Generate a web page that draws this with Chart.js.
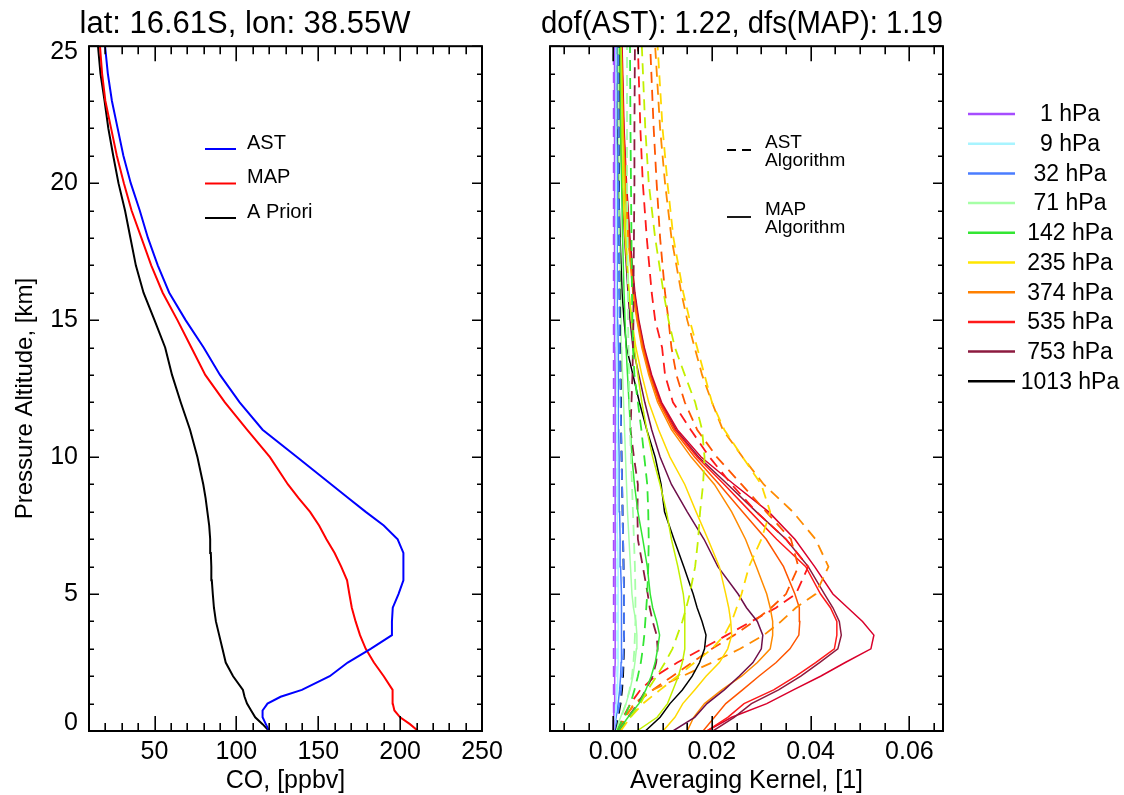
<!DOCTYPE html>
<html><head><meta charset="utf-8">
<script src="https://cdn.jsdelivr.net/npm/chart.js@4.4.1/dist/chart.umd.min.js"></script>
<style>
html,body{margin:0;padding:0;background:#fff;}
#wrap{position:relative;width:1124px;height:795px;overflow:hidden;background:#fff;}
#c1{position:absolute;left:0;top:0;}
#c2{position:absolute;left:500px;top:0;}
</style></head><body>
<div id="wrap"><canvas id="c1" width="540" height="795"></canvas><canvas id="c2" width="624" height="795"></canvas></div>
<script>
// ---------------- data: left panel (CO profiles) ----------------
const PROFILE_ALT = [0, 0.25, 0.5, 0.75, 1, 1.25, 1.5, 2, 2.5, 3, 3.5, 4, 4.5, 5, 5.5, 6, 6.5, 7, 7.5, 8, 8.5, 9, 10, 11, 12, 13, 14, 15, 16, 17, 18, 19, 20, 21, 22, 23, 24, 25];
const AST_CO = [120, 118, 116, 116, 119, 127, 140, 157, 168, 182, 195, 195, 195.5, 199, 202, 202, 202, 198.5, 190, 179, 168.5, 158, 137, 116, 102, 90, 80, 69, 59, 52, 46, 41, 35.5, 31, 27.5, 24, 21.5, 19.8];
const MAP_CO = [211, 206, 200, 196.5, 195.5, 195.5, 195.3, 190, 184, 179, 175.5, 172.8, 170.5, 169, 167.6, 164, 160, 155, 150.5, 145, 138, 131.5, 120.5, 106.5, 93, 81, 72.5, 64, 55, 48, 42, 36, 31.3, 27, 23.5, 20, 18, 16.7];
const APRIORI_CO = [120, 116, 111.5, 109, 106.5, 105, 104, 98, 93.5, 91.5, 89.5, 87.5, 86.3, 85.6, 85, 84.7, 84.4, 84, 83.4, 82.3, 81.2, 79.8, 76.2, 71.7, 66, 60.7, 56.5, 50, 43.3, 38.6, 35.3, 32, 28, 24.8, 21.8, 19.5, 17, 15.5];
const CO_SERIES_LABELS = ['AST', 'MAP', 'A Priori'];
const CO_TICKS = [50, 100, 150, 200, 250];
const ALT_TICKS = [0, 5, 10, 15, 20, 25];

// ---------------- data: right panel (averaging kernels) ----------------
const AK_ALT = [0, 0.5, 1, 1.5, 2, 2.5, 3, 3.5, 4, 4.5, 5, 6, 7, 8, 9, 10, 11, 12, 13, 14, 15, 16, 18, 20, 22, 25];
const AK_TICKS = [0, 0.02, 0.04, 0.06];
const AK_TICK_LABELS = ['0.00', '0.02', '0.04', '0.06'];
// MAP algorithm kernels (solid)
const MAP_AK_1    = [0.0000,0.0001,0.0002,0.0003,0.0003,0.0004,0.0004,0.0004,0.0004,0.0004,0.0004,0.0004,0.0004,0.0004,0.0004,0.0004,0.0004,0.0004,0.0004,0.0003,0.0003,0.0003,0.0003,0.0003,0.0002,0.0002];
const MAP_AK_9    = [0.0001,0.0004,0.0006,0.0008,0.0009,0.0010,0.0010,0.0010,0.0010,0.0010,0.0010,0.0010,0.0009,0.0009,0.0009,0.0008,0.0008,0.0008,0.0007,0.0007,0.0007,0.0006,0.0006,0.0006,0.0005,0.0005];
const MAP_AK_32   = [0.0001,0.0006,0.0010,0.0013,0.0015,0.0016,0.0017,0.0017,0.0017,0.0017,0.0016,0.0015,0.0014,0.0013,0.0012,0.0012,0.0011,0.0011,0.0010,0.0010,0.0009,0.0009,0.0008,0.0008,0.0007,0.0007];
const MAP_AK_71   = [0.0004,0.0015,0.0026,0.0034,0.0040,0.0044,0.0047,0.0048,0.0046,0.0041,0.0038,0.0035,0.0032,0.0029,0.0027,0.0025,0.0023,0.0021,0.0019,0.0017,0.0016,0.0015,0.0013,0.0012,0.0011,0.0010];
const MAP_AK_142  = [0.0010,0.0030,0.0052,0.0066,0.0077,0.0085,0.0090,0.0094,0.0088,0.0080,0.0075,0.0069,0.0060,0.0050,0.0043,0.0038,0.0035,0.0032,0.0029,0.0026,0.0024,0.0022,0.0019,0.0017,0.0015,0.0013];
const MAP_AK_180  = [0.0048,0.0089,0.0110,0.0121,0.0132,0.0140,0.0145,0.0145,0.0145,0.0145,0.0142,0.0131,0.0118,0.0108,0.0095,0.0080,0.0068,0.0058,0.0050,0.0043,0.0037,0.0032,0.0026,0.0022,0.0019,0.0016];
const MAP_AK_235  = [0.0101,0.0125,0.0141,0.0165,0.0188,0.0215,0.0232,0.0240,0.0238,0.0234,0.0228,0.0215,0.0192,0.0168,0.0145,0.0115,0.0092,0.0072,0.0058,0.0046,0.0038,0.0032,0.0024,0.0019,0.0016,0.0013];
const MAP_AK_374  = [0.0150,0.0163,0.0185,0.0220,0.0260,0.0292,0.0318,0.0323,0.0323,0.0318,0.0311,0.0290,0.0268,0.0240,0.0205,0.0158,0.0118,0.0090,0.0072,0.0058,0.0048,0.0040,0.0030,0.0024,0.0020,0.0016];
const MAP_AK_450  = [0.0182,0.0205,0.0228,0.0262,0.0295,0.0330,0.0358,0.0376,0.0378,0.0377,0.0368,0.0345,0.0310,0.0262,0.0215,0.0165,0.0122,0.0093,0.0074,0.0060,0.0049,0.0041,0.0031,0.0025,0.0020,0.0016];
const MAP_AK_535  = [0.0190,0.0232,0.0265,0.0325,0.0370,0.0410,0.0448,0.0453,0.0453,0.0440,0.0420,0.0390,0.0331,0.0278,0.0225,0.0170,0.0125,0.0095,0.0075,0.0061,0.0050,0.0042,0.0032,0.0026,0.0021,0.0017];
const MAP_AK_640  = [0.0190,0.0240,0.0311,0.0365,0.0420,0.0470,0.0522,0.0528,0.0505,0.0475,0.0445,0.0408,0.0368,0.0315,0.0245,0.0178,0.0130,0.0098,0.0078,0.0063,0.0052,0.0044,0.0034,0.0027,0.0022,0.0018];
const MAP_AK_690  = [0.0121,0.0165,0.0190,0.0225,0.0255,0.0283,0.0300,0.0303,0.0292,0.0270,0.0253,0.0212,0.0184,0.0150,0.0118,0.0095,0.0078,0.0064,0.0052,0.0040,0.0034,0.0030,0.0023,0.0018,0.0015,0.0012];
const MAP_AK_753  = [0.0202,0.0245,0.0280,0.0335,0.0380,0.0418,0.0455,0.0462,0.0458,0.0445,0.0428,0.0395,0.0350,0.0290,0.0232,0.0173,0.0127,0.0096,0.0076,0.0062,0.0051,0.0043,0.0033,0.0026,0.0021,0.0017];
const MAP_AK_1013 = [0.0065,0.0095,0.0115,0.0140,0.0160,0.0175,0.0185,0.0188,0.0180,0.0170,0.0162,0.0143,0.0123,0.0104,0.0097,0.0085,0.0068,0.0053,0.0040,0.0027,0.0022,0.0018,0.0014,0.0011,0.0009,0.0008];
// AST algorithm kernels (dashed)
const AST_AK_1    = [0.0000,0.0001,0.0001,0.0001,0.0001,0.0001,0.0001,0.0001,0.0001,0.0001,0.0001,0.0001,0.0001,0.0001,0.0001,0.0001,0.0001,0.0001,0.0001,0.0001,0.0001,0.0001,0.0001,0.0001,0.0001,0.0001];
const AST_AK_9    = [0.0001,0.0004,0.0006,0.0007,0.0008,0.0008,0.0008,0.0008,0.0008,0.0008,0.0008,0.0008,0.0008,0.0008,0.0007,0.0007,0.0007,0.0007,0.0007,0.0006,0.0006,0.0006,0.0006,0.0005,0.0005,0.0005];
const AST_AK_32   = [0.0002,0.0008,0.0013,0.0016,0.0018,0.0020,0.0021,0.0022,0.0022,0.0022,0.0022,0.0021,0.0020,0.0019,0.0018,0.0017,0.0016,0.0015,0.0014,0.0013,0.0013,0.0012,0.0012,0.0011,0.0011,0.0010];
const AST_AK_71   = [0.0004,0.0016,0.0026,0.0033,0.0038,0.0041,0.0043,0.0044,0.0045,0.0045,0.0045,0.0044,0.0042,0.0040,0.0038,0.0036,0.0034,0.0033,0.0032,0.0031,0.0030,0.0030,0.0029,0.0028,0.0028,0.0028];
const AST_AK_142  = [0.0006,0.0022,0.0035,0.0043,0.0050,0.0056,0.0060,0.0063,0.0065,0.0067,0.0069,0.0071,0.0072,0.0071,0.0069,0.0063,0.0057,0.0050,0.0043,0.0040,0.0039,0.0038,0.0037,0.0036,0.0035,0.0034];
const AST_AK_180  = [0.0010,0.0035,0.0055,0.0070,0.0088,0.0105,0.0120,0.0130,0.0140,0.0148,0.0155,0.0166,0.0172,0.0176,0.0182,0.0185,0.0180,0.0166,0.0145,0.0125,0.0112,0.0102,0.0085,0.0072,0.0065,0.0058];
const AST_AK_235  = [0.0015,0.0035,0.0060,0.0095,0.0130,0.0165,0.0200,0.0225,0.0240,0.0250,0.0260,0.0275,0.0300,0.0318,0.0300,0.0262,0.0225,0.0200,0.0185,0.0170,0.0155,0.0142,0.0122,0.0110,0.0100,0.0090];
const AST_AK_374  = [0.0012,0.0025,0.0042,0.0080,0.0140,0.0200,0.0257,0.0305,0.0340,0.0370,0.0410,0.0436,0.0410,0.0364,0.0305,0.0262,0.0222,0.0200,0.0180,0.0165,0.0150,0.0138,0.0118,0.0105,0.0095,0.0085];
const AST_AK_450  = [0.0010,0.0022,0.0045,0.0080,0.0120,0.0160,0.0200,0.0245,0.0285,0.0320,0.0350,0.0375,0.0360,0.0310,0.0260,0.0210,0.0170,0.0145,0.0128,0.0118,0.0112,0.0105,0.0095,0.0088,0.0082,0.0075];
const AST_AK_535  = [0.0008,0.0020,0.0035,0.0055,0.0085,0.0130,0.0180,0.0230,0.0280,0.0330,0.0370,0.0395,0.0350,0.0290,0.0240,0.0195,0.0157,0.0121,0.0105,0.0099,0.0085,0.0078,0.0068,0.0060,0.0055,0.0050];
const AST_AK_753  = [0.0010,0.0030,0.0050,0.0066,0.0080,0.0087,0.0090,0.0088,0.0080,0.0074,0.0070,0.0060,0.0050,0.0049,0.0050,0.0042,0.0035,0.0037,0.0039,0.0040,0.0041,0.0041,0.0042,0.0043,0.0043,0.0044];
const AST_AK_1013 = [0.0003,0.0010,0.0015,0.0018,0.0020,0.0021,0.0022,0.0022,0.0022,0.0022,0.0022,0.0021,0.0020,0.0019,0.0018,0.0017,0.0016,0.0016,0.0015,0.0014,0.0014,0.0013,0.0012,0.0012,0.0011,0.0011];
const AK_LEGEND_LABELS = ['1 hPa', '9 hPa', '32 hPa', '71 hPa', '142 hPa', '235 hPa', '374 hPa', '535 hPa', '753 hPa', '1013 hPa'];
const ALGO_LABELS = [['AST', 'Algorithm'], ['MAP', 'Algorithm']];

// ---------------- styles ----------------
const FONT = "'Liberation Sans', Arial, Helvetica, sans-serif";
Chart.defaults.font.family = FONT;
Chart.defaults.color = '#000';
const C = {
  purple: '#a64dff', cyan: '#a8f4ff', blue: '#4a7dff', pale: '#a6ffa6', green: '#33e633',
  ygreen: '#c2f000', yellow: '#ffd900', orange: '#ff8a00', ored: '#ff5500', red: '#ff1a1a',
  crimson: '#d9002b', maroon: '#8c1a3f', plum: '#6e0f4a', black: '#000000'
};
const AK_LEGEND_COLORS = [C.purple, C.cyan, C.blue, C.pale, C.green, '#ffe600', '#ff8000', C.red, C.maroon, C.black];

const pts = (alt, vals) => alt.map((a, i) => ({x: vals[i], y: a}));

// inward ticks + frame; end labels of the altitude axis pulled inside the frame
const boxTicks = {
  id: 'boxTicks',
  beforeDraw(chart) {
    const ys = chart.scales.y;
    if (ys._endShifted) return;
    const items = ys.getLabelItems();
    items.forEach(it => {
      if (it.label === String(ys.min)) it.options.translation[1] -= 8;
      if (it.label === String(ys.max)) it.options.translation[1] += 6;
    });
    ys._endShifted = true;
  },
  afterDatasetsDraw(chart, args, o) {
    const {ctx, chartArea: a} = chart;
    const xs = chart.scales.x, ys = chart.scales.y;
    ctx.save();
    ctx.strokeStyle = '#000';
    ctx.lineWidth = 1.6;
    ctx.beginPath();
    const tx = (v, len) => { const p = Math.round(xs.getPixelForValue(v)) + 0.2; ctx.moveTo(p, a.bottom); ctx.lineTo(p, a.bottom - len); ctx.moveTo(p, a.top); ctx.lineTo(p, a.top + len); };
    const ty = (v, len) => { const p = Math.round(ys.getPixelForValue(v)) + 0.2; ctx.moveTo(a.left, p); ctx.lineTo(a.left + len, p); ctx.moveTo(a.right, p); ctx.lineTo(a.right - len, p); };
    const isMaj = (arr, v, eps) => arr.some(m => Math.abs(m - v) < eps);
    const nx = Math.round((xs.max - o.xFrom) / o.xStep);
    for (let i = 0; i <= nx; i++) { const v = o.xFrom + i * o.xStep; if (v < xs.min || v > xs.max + o.xStep * 0.01) continue; tx(v, isMaj(o.xMajor, v, o.xStep * 0.1) ? 15 : 8); }
    const ny = Math.round((ys.max - ys.min) / o.yStep);
    for (let i = 0; i <= ny; i++) { const v = ys.min + i * o.yStep; ty(v, isMaj(o.yMajor, v, o.yStep * 0.1) ? 10 : 5); }
    ctx.stroke();
    ctx.lineWidth = 2;
    ctx.strokeRect(a.left, a.top, a.right - a.left, a.bottom - a.top);
    ctx.restore();
  }
};

// legend drawn from the dataset list
const lineLegend = {
  id: 'lineLegend',
  afterDraw(chart, args, o) {
    const ctx = chart.ctx;
    ctx.save();
    o.items.forEach((it, i) => {
      const y = o.y0 + i * o.dy;
      ctx.strokeStyle = it.color; ctx.lineWidth = o.lw || 2;
      ctx.setLineDash(it.dash || []);
      ctx.beginPath(); ctx.moveTo(o.x0, y); ctx.lineTo(o.x1, y); ctx.stroke();
      ctx.setLineDash([]);
      ctx.fillStyle = '#000';
      ctx.font = o.size + 'px ' + FONT;
      ctx.textBaseline = 'middle';
      ctx.textAlign = o.align || 'left';
      const lines = Array.isArray(it.text) ? it.text : [it.text];
      lines.forEach((t, k) => ctx.fillText(t, o.tx, y + o.tdy + k * o.lh));
    });
    ctx.restore();
  }
};

// ---------------- left chart ----------------
const coSets = [
  {label: CO_SERIES_LABELS[0], data: pts(PROFILE_ALT, AST_CO), borderColor: '#0000ff'},
  {label: CO_SERIES_LABELS[1], data: pts(PROFILE_ALT, MAP_CO), borderColor: '#ff0000'},
  {label: CO_SERIES_LABELS[2], data: pts(PROFILE_ALT, APRIORI_CO), borderColor: '#000000'}
].map(d => Object.assign(d, {showLine: true, pointRadius: 0, borderWidth: 2, tension: 0, fill: false}));

new Chart(document.getElementById('c1'), {
  type: 'scatter',
  data: {datasets: coSets},
  plugins: [boxTicks, lineLegend],
  options: {
    responsive: false, animation: false, devicePixelRatio: 1,
    layout: {padding: {left: 8, right: 58, top: 0, bottom: 0}},
    plugins: {
      legend: {display: false}, tooltip: {enabled: false},
      title: {display: true, text: 'lat: 16.61S, lon: 38.55W', color: '#000', font: {size: 31, weight: 'normal'}, padding: {top: 6, bottom: 3}},
      boxTicks: {xFrom: 10, xStep: 10, xMajor: CO_TICKS, yStep: 1, yMajor: ALT_TICKS},
      lineLegend: {x0: 205, x1: 236, tx: 247, tdy: -6, lh: 0, y0: 149, dy: 34.5, size: 20,
        items: coSets.map(d => ({color: d.borderColor, text: d.label}))}
    },
    scales: {
      x: {type: 'linear', min: 10, max: 250,
        afterBuildTicks: s => { s.ticks = CO_TICKS.map(v => ({value: v})); },
        afterFit: s => { s.height = 64; },
        grid: {display: false, drawTicks: false}, border: {display: false},
        ticks: {color: '#000', font: {size: 25}, padding: 6, maxRotation: 0, autoSkip: false},
        title: {display: true, text: 'CO, [ppbv]', color: '#000', font: {size: 25, lineHeight: 1.1}, padding: 0}},
      y: {type: 'linear', min: 0, max: 25,
        afterBuildTicks: s => { s.ticks = ALT_TICKS.map(v => ({value: v})); },
        afterFit: s => { s.width = 81; },
        grid: {display: false, drawTicks: false}, border: {display: false},
        ticks: {color: '#000', font: {size: 25}, padding: 11, autoSkip: false},
        title: {display: true, text: 'Pressure Altitude, [km]   ', color: '#000', font: {size: 24, lineHeight: 1.2}, padding: {top: 3, bottom: 0}}}
    }
  }
});

// ---------------- right chart ----------------
const akDefs = [
  [AST_AK_1, C.purple, true], [MAP_AK_1, C.purple, false],
  [AST_AK_9, C.cyan, true], [MAP_AK_9, C.cyan, false],
  [AST_AK_32, C.blue, true], [MAP_AK_32, C.blue, false],
  [AST_AK_1013, C.black, true],
  [AST_AK_71, C.pale, true], [MAP_AK_71, C.pale, false],
  [AST_AK_142, C.green, true], [MAP_AK_142, C.green, false],
  [AST_AK_753, C.maroon, true],
  [AST_AK_180, C.ygreen, true], [MAP_AK_180, C.ygreen, false],
  [MAP_AK_1013, C.black, false],
  [AST_AK_235, C.yellow, true], [MAP_AK_235, C.yellow, false],
  [MAP_AK_690, C.plum, false],
  [AST_AK_374, C.orange, true], [MAP_AK_374, C.orange, false],
  [AST_AK_450, C.ored, true], [MAP_AK_450, C.ored, false],
  [AST_AK_535, C.red, true], [MAP_AK_535, C.red, false],
  [MAP_AK_753, C.maroon, false],
  [MAP_AK_640, C.crimson, false]
];
const akSets = akDefs.map(([arr, col, dash]) => ({
  data: pts(AK_ALT, arr), borderColor: col, borderWidth: dash ? 1.8 : 1.5,
  borderDash: dash ? [11, 7] : [], showLine: true, pointRadius: 0, tension: 0, fill: false
}));

new Chart(document.getElementById('c2'), {
  type: 'scatter',
  data: {datasets: akSets},
  plugins: [boxTicks, lineLegend, {
    id: 'akLegend',
    afterDraw(chart) {
      const ctx = chart.ctx;
      ctx.save();
      ctx.font = '23px ' + FONT; ctx.textBaseline = 'middle'; ctx.textAlign = 'center';
      AK_LEGEND_LABELS.forEach((t, i) => {
        const y = 114 + i * 29.7;
        ctx.strokeStyle = AK_LEGEND_COLORS[i]; ctx.lineWidth = 2.5;
        ctx.beginPath(); ctx.moveTo(468, y); ctx.lineTo(515, y); ctx.stroke();
        ctx.fillStyle = '#000'; ctx.fillText(t, 570, y + 1);
      });
      ctx.restore();
    }
  }],
  options: {
    responsive: false, animation: false, devicePixelRatio: 1,
    layout: {padding: {left: 41, right: 181, top: 0, bottom: 0}},
    plugins: {
      legend: {display: false}, tooltip: {enabled: false},
      title: {display: true, text: 'dof(AST): 1.22, dfs(MAP): 1.19', color: '#000', font: {size: 31, weight: 'normal'}, padding: {top: 6, bottom: 3}},
      boxTicks: {xFrom: -0.01, xStep: 0.005, xMajor: AK_TICKS, yStep: 1, yMajor: ALT_TICKS},
      lineLegend: {x0: 227, x1: 251, tx: 265, tdy: -7, lh: 18, y0: 150, dy: 67, size: 19, lw: 1.8,
        items: [{color: '#000', dash: [9, 6], text: ALGO_LABELS[0]}, {color: '#000', text: ALGO_LABELS[1]}]}
    },
    scales: {
      x: {type: 'linear', min: -0.0128, max: 0.0668,
        afterBuildTicks: s => { s.ticks = AK_TICKS.map(v => ({value: v})); },
        afterFit: s => { s.height = 64; },
        grid: {display: false, drawTicks: false}, border: {display: false},
        ticks: {color: '#000', font: {size: 25}, padding: 6, maxRotation: 0, autoSkip: false,
          callback: (v) => AK_TICK_LABELS[AK_TICKS.findIndex(t => Math.abs(t - v) < 1e-9)]},
        title: {display: true, text: 'Averaging Kernel, [1]', color: '#000', font: {size: 25, lineHeight: 1.1}, padding: 0}},
      y: {type: 'linear', min: 0, max: 25,
        afterBuildTicks: s => { s.ticks = ALT_TICKS.map(v => ({value: v})); },
        afterFit: s => { s.width = 9; },
        grid: {display: false, drawTicks: false}, border: {display: false},
        ticks: {color: '#000', font: {size: 25}, padding: 10, autoSkip: false}}
    }
  }
});
</script>
</body></html>
